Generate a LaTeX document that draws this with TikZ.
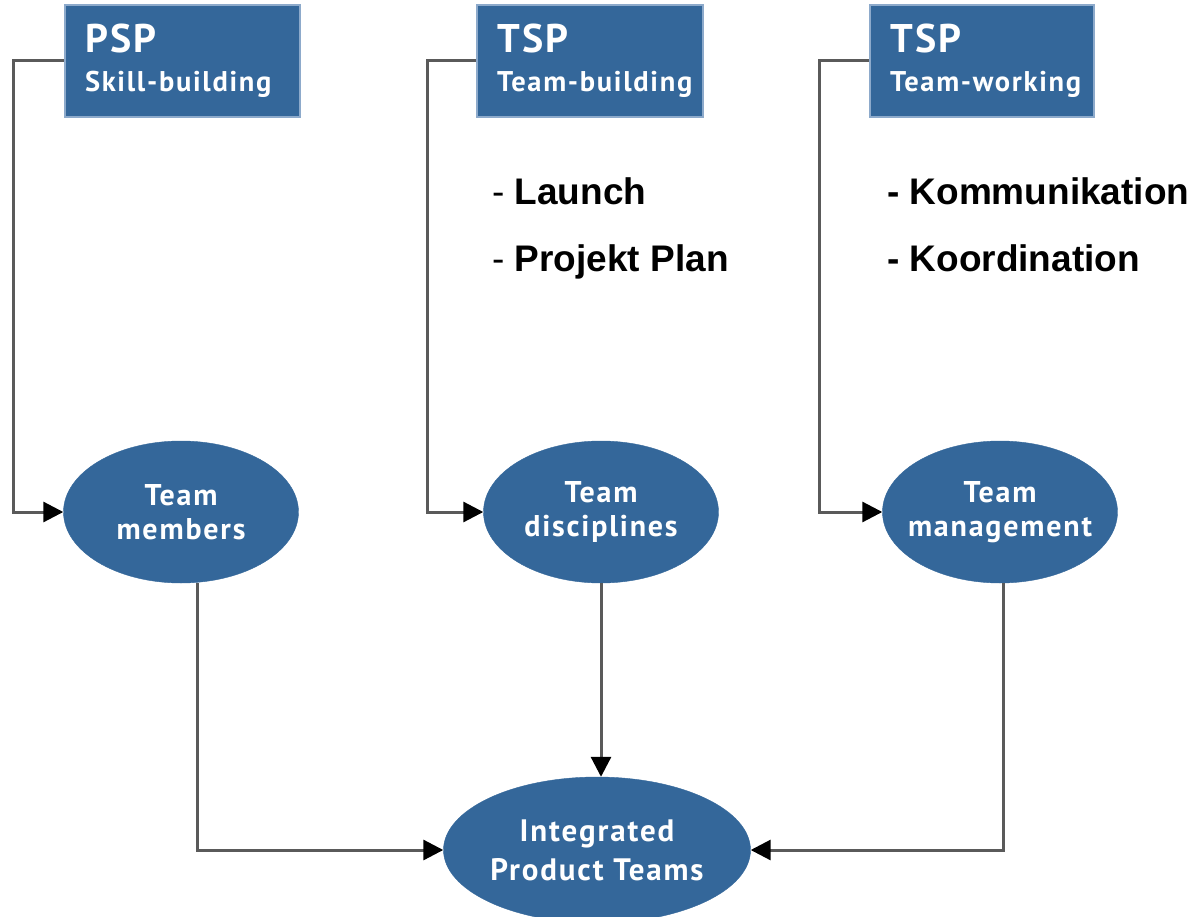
\documentclass[tikz,border=0pt]{standalone}
\usepackage{fontspec}
\setmainfont{Liberation Sans}
\newfontfamily\dinfont[LetterSpace=6]{PT Sans}
\usetikzlibrary{shapes.geometric,arrows.meta}
\definecolor{boxblue}{HTML}{34679A}
\definecolor{edgeblue}{HTML}{8DAACB}
\definecolor{linegray}{HTML}{5A5A5A}
\hbadness=10000 \hfuzz=100pt
\tikzset{
  topbox/.style={draw=edgeblue, line width=2pt, fill=boxblue, text=white,
    minimum width=#1, minimum height=112pt, inner xsep=20pt,
    text width=#1-40pt, align=left, font=\dinfont\bfseries\fontsize{28.5}{39}\selectfont},
  oval/.style={ellipse, draw=boxblue, fill=boxblue, text=white, inner sep=0pt,
    minimum width=235pt, minimum height=142pt, align=center,
    font=\dinfont\bfseries\fontsize{30}{34}\selectfont},
  conn/.style={draw=linegray, line width=3pt, -{Triangle[length=20pt,width=20pt,color=black]}},
  note/.style={anchor=base west, font=\fontsize{37}{44}\selectfont, inner sep=0pt}
}
\begin{document}
\begin{tikzpicture}[x=1pt,y=-1pt]
\useasboundingbox (0,0) rectangle (1193,917);
% top boxes
\node[topbox=235pt] (psp) at (182.5,61) {{\fontsize{40}{39}\selectfont PSP}\\\mbox{Skill-building}};
\node[topbox=226pt] (tspb) at (590,61) {{\fontsize{40}{39}\selectfont TSP}\\\mbox{Team-building}};
\node[topbox=224pt] (tspw) at (982,61) {{\fontsize{40}{39}\selectfont TSP}\\\mbox{Team-working}};
% ellipses
\node[oval] (tm) at (181,512) {Team\\members};
\node[oval] (td) at (601,512) {Team\\disciplines};
\node[oval] (tmg) at (1000,512) {Team\\\makebox[0pt]{management}};
\node[oval, minimum width=307pt, minimum height=146pt, font=\dinfont\bfseries\fontsize{31}{39}\selectfont] (ipt) at (597,850) {Integrated\\Product Teams};
% notes
\node[note] (n1) at (492,205) {- \textbf{Launch}};
\node[note] (n2) at (492,272) {- \textbf{Projekt Plan}};
\node[note] (n3) at (887,205) {\textbf{- Kommunikation}};
\node[note] (n4) at (887,272) {\textbf{- Koordination}};
% connectors
\draw[conn] (psp.west) -- ++(-51,0) |- (tm.west);
\draw[conn] (tspb.west) -- ++(-49,0) |- (td.west);
\draw[conn] (tspw.west) -- ++(-50,0) |- (tmg.west);
\draw[conn] ([xshift=16pt]tm.south) |- (ipt.west);
\draw[conn] (td.south) -- (td.south |- ipt.north);
\draw[conn] ([xshift=3pt]tmg.south) |- (ipt.east);
\end{tikzpicture}
\end{document}
